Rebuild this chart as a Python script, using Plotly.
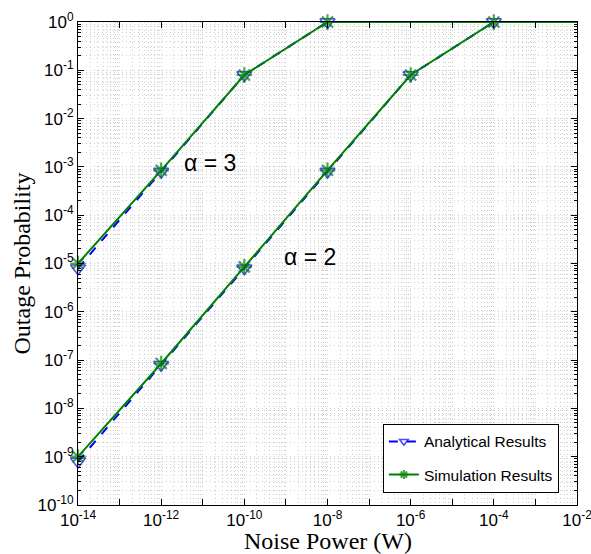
import plotly.graph_objects as go

noise = [1e-14, 1e-12, 1e-10, 1e-8, 1e-6, 1e-4, 1e-2]

ana_a3 = [8e-6, 8e-4, 0.08, 1.0, 1.0, 1.0, 1.0]
sim_a3 = [1e-5, 8.5e-4, 0.08, 1.0, 1.0, 1.0, 1.0]
ana_a2 = [8e-10, 8e-8, 8e-6, 8e-4, 0.08, 1.0, 1.0]
sim_a2 = [1e-9, 8.5e-8, 8.5e-6, 8.5e-4, 0.08, 1.0, 1.0]

mk_a3 = [13, 13, 13, 13, 0, 0, 0]
mk_a2 = [13, 13, 13, 13, 13, 13, 0]

xtick_vals = [10.0 ** e for e in range(-14, -1)]
xtick_text = ["10<sup>%d</sup>" % e if e % 2 == 0 else "" for e in range(-14, -1)]
ytick_vals = [10.0 ** e for e in range(-10, 1)]
ytick_text = ["10<sup>%d</sup>" % e for e in range(-10, 1)]

BLUE = "#0000ff"
GREEN = "#008000"

fig = go.Figure()

def add_pair(ana, sim, msz, show):
    fig.add_trace(go.Scatter(
        x=noise, y=ana, mode="lines+markers", name="Analytical Results", legendgroup="ana",
        line=dict(color=BLUE, width=2, dash="dash"),
        marker=dict(symbol="triangle-down-open", size=msz, color=BLUE, line=dict(width=1.6, color=BLUE)),
        cliponaxis=False, showlegend=show))
    fig.add_trace(go.Scatter(
        x=noise, y=sim, mode="lines+markers", name="Simulation Results", legendgroup="sim",
        line=dict(color=GREEN, width=2),
        marker=dict(symbol="asterisk-open", size=msz, color=GREEN, line=dict(width=2.2, color=GREEN)),
        cliponaxis=False, showlegend=show))

add_pair(ana_a3, sim_a3, mk_a3, True)
add_pair(ana_a2, sim_a2, mk_a2, False)

GRIDC = "#cfcfcf"
DASH = "1px,3px"

fig.update_xaxes(
    type="log", range=[-14, -2], tickvals=xtick_vals, ticktext=xtick_text,
    ticks="inside", ticklen=6, tickcolor="black", showline=True, linecolor="black", linewidth=1,
    mirror="ticks", tickfont=dict(family="Liberation Sans, Arial", size=17, color="black"),
    ticklabeloverflow="allow",
    minor=dict(dtick="D1", ticks="", showgrid=True, gridcolor=GRIDC, griddash=DASH),
    showgrid=True, gridcolor=GRIDC, griddash=DASH, zeroline=False, automargin=False)
fig.update_yaxes(
    type="log", range=[-10, 0], tickvals=ytick_vals, ticktext=ytick_text,
    ticks="inside", ticklen=6, tickcolor="black", showline=True, linecolor="black", linewidth=1,
    mirror="ticks", tickfont=dict(family="Liberation Sans, Arial", size=17, color="black"),
    ticklabeloverflow="allow",
    title=dict(text="Outage Probability", font=dict(family="Liberation Serif, Times New Roman", size=24, color="black"), standoff=0),
    minor=dict(dtick="D1", ticks="inside", ticklen=3, tickcolor="black", showgrid=True, gridcolor=GRIDC, griddash=DASH),
    showgrid=True, gridcolor=GRIDC, griddash=DASH, zeroline=False, automargin=False)

fig.add_annotation(x=0.5, y=0, xref="paper", yref="paper", yanchor="top", yshift=-22,
                   borderpad=0, text="Noise Power (W)", showarrow=False,
                   font=dict(family="Liberation Serif, Times New Roman", size=24, color="black"))

fig.add_annotation(x=-10.83, y=-2.92, text="α = 3", showarrow=False,
                   font=dict(family="Liberation Sans, Arial", size=23, color="black"))
fig.add_annotation(x=-8.42, y=-4.87, text="α = 2", showarrow=False,
                   font=dict(family="Liberation Sans, Arial", size=23, color="black"))

fig.update_layout(
    width=591, height=554,
    margin=dict(l=78, r=14, t=22, b=49),
    plot_bgcolor="white", paper_bgcolor="white",
    legend=dict(x=0.611, y=0.168, xanchor="left", yanchor="top",
                bordercolor="black", borderwidth=1, bgcolor="white",
                font=dict(family="Liberation Sans, Arial", size=15.5, color="black"),
                tracegroupgap=10),
)

fig.write_html("out.html", config={"displayModeBar": False},
               post_script="document.body.style.margin='0';document.body.style.overflow='hidden';")
